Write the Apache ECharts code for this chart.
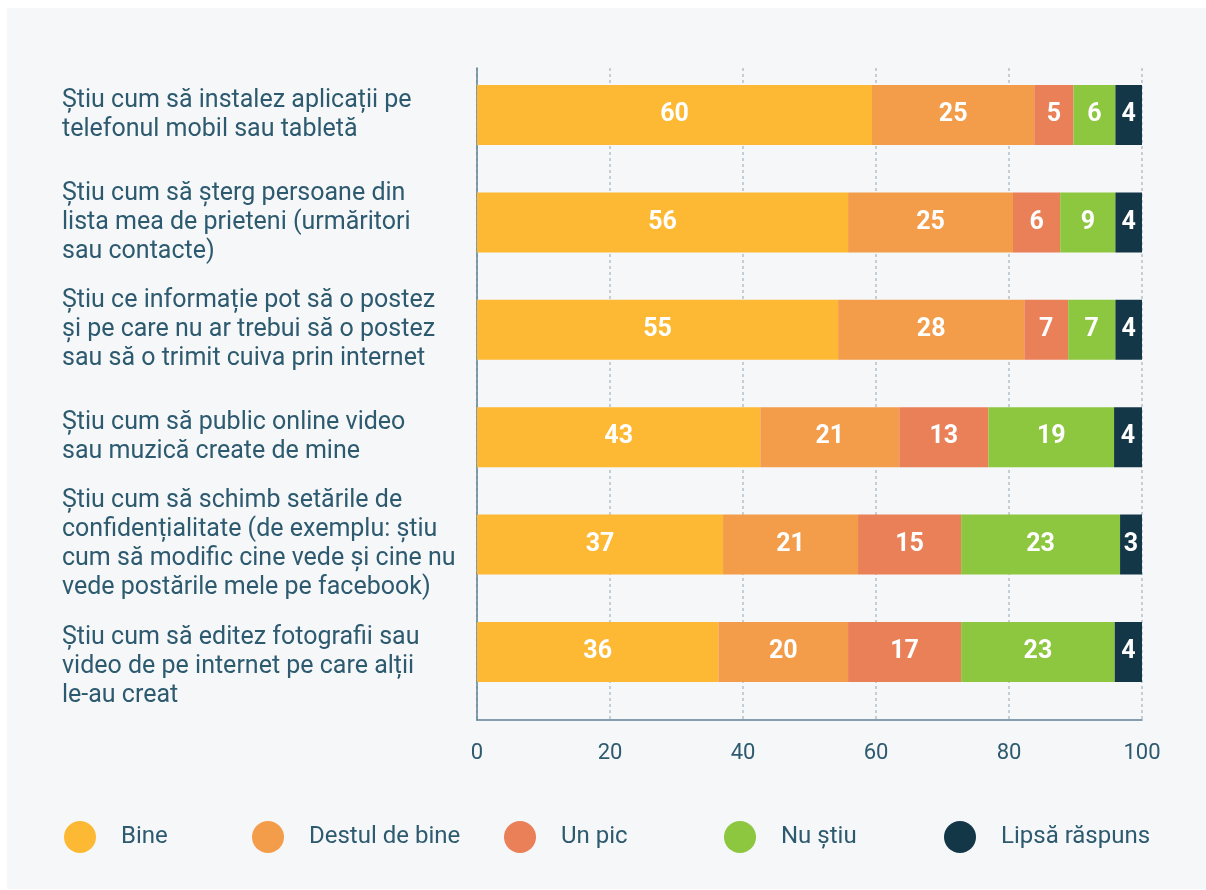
<!DOCTYPE html>
<html>
<head>
<meta charset="utf-8">
<title>Abilități digitale</title>
<script src="https://cdn.jsdelivr.net/npm/echarts@6/dist/echarts.min.js"></script>
<style>
  html, body { margin: 0; padding: 0; background: #ffffff; }
  #chart { width: 1206px; height: 890px; }
</style>
</head>
<body>
<div id="chart"></div>
<script>
const categories = [
  'Știu cum să instalez aplicații pe\ntelefonul mobil sau tabletă',
  'Știu cum să șterg persoane din\nlista mea de prieteni (urmăritori\nsau contacte)',
  'Știu ce informație pot să o postez\nși pe care nu ar trebui să o postez\nsau să o trimit cuiva prin internet',
  'Știu cum să public online video\nsau muzică create de mine',
  'Știu cum să schimb setările de\nconfidențialitate (de exemplu: știu\ncum să modific cine vede și cine nu\nvede postările mele pe facebook)',
  'Știu cum să editez fotografii sau\nvideo de pe internet pe care alții\nle-au creat'
];

const seriesNames = ['Bine', 'Destul de bine', 'Un pic', 'Nu știu', 'Lipsă răspuns'];

// bar lengths as they are drawn in the source (%)
const bine        = [59.4, 55.8, 54.3, 42.6, 37.0, 36.3];
const destulDeBine = [24.4, 24.8, 28.0, 20.9, 20.3, 19.5];
const unPic       = [5.9, 7.1, 6.6, 13.4, 15.5, 17.0];
const nuStiu      = [6.3, 8.3, 7.1, 18.9, 23.9, 23.1];
const lipsa       = [4.2, 4.2, 4.2, 4.4, 3.3, 4.2];

// figures printed on the bars
const bineLabels   = [60, 56, 55, 43, 37, 36];
const destulLabels = [25, 25, 28, 21, 21, 20];
const unPicLabels  = [5, 6, 7, 13, 15, 17];
const nuStiuLabels = [6, 9, 7, 19, 23, 23];
const lipsaLabels  = [4, 4, 4, 4, 3, 4];

const xTicks = [0, 20, 40, 60, 80, 100];

const values = [bine, destulDeBine, unPic, nuStiu, lipsa];
const printed = [bineLabels, destulLabels, unPicLabels, nuStiuLabels, lipsaLabels];
const colors = ['#fdb933', '#f39d4a', '#ea8058', '#8dc63f', '#143748'];

const textColor = '#2d5a6f';
const font = 'Roboto, "Noto Sans", sans-serif';

const chart = echarts.init(document.getElementById('chart'));

const legendLeft = [64, 252, 504, 724, 944];

chart.setOption({
  backgroundColor: '#ffffff',
  textStyle: { fontFamily: font },
  graphic: [{
    type: 'rect',
    z: -10,
    shape: { x: 7, y: 8, width: 1199, height: 881 },
    style: { fill: '#f5f7f9' }
  }],
  legend: seriesNames.map((name, i) => ({
    data: [name],
    left: legendLeft[i],
    top: 821,
    padding: 0,
    icon: 'circle',
    itemWidth: 32,
    itemHeight: 32,
    selectedMode: false,
    textStyle: { color: textColor, fontSize: 24, fontFamily: font, padding: [0, 0, 0, 20] }
  })),
  grid: [
    // frame: axis lines, grid lines, tick labels
    { left: 477, right: 64, top: 68, bottom: 170 },
    // bars
    { left: 477, right: 64, top: 61.3, bottom: 184.3 }
  ],
  xAxis: [
    {
      gridIndex: 0,
      type: 'value',
      min: 0,
      max: 100,
      interval: 20,
      axisLine: { show: true, lineStyle: { color: '#5f8294', width: 1.5 } },
      axisTick: { show: false },
      axisLabel: {
        color: textColor, fontSize: 22, margin: 22, fontFamily: font,
        formatter: v => xTicks.includes(v) ? String(v) : ''
      },
      splitLine: { show: true, lineStyle: { color: '#b3c1cb', type: [3, 3], width: 1.5 } }
    },
    {
      gridIndex: 1,
      type: 'value',
      min: 0,
      max: 100,
      show: false
    }
  ],
  yAxis: [
    {
      gridIndex: 0,
      type: 'value',
      min: 0,
      max: 1,
      axisLine: { show: true, lineStyle: { color: '#5f8294', width: 1.5 } },
      axisTick: { show: false },
      axisLabel: { show: false },
      splitLine: { show: false }
    },
    {
      gridIndex: 1,
      type: 'category',
      inverse: true,
      data: categories,
      axisLine: { show: false },
      axisTick: { show: false },
      axisLabel: {
        interval: 0,
        hideOverlap: false,
        align: 'left',
        margin: 415,
        color: textColor,
        fontSize: 25,
        lineHeight: 29,
        fontFamily: font,
        // the last question sits a little lower in the source
        formatter: (v, i) => i === categories.length - 1 ? '\n' + v : v
      }
    }
  ],
  series: seriesNames.map((name, i) => ({
    name: name,
    type: 'bar',
    stack: 'total',
    xAxisIndex: 1,
    yAxisIndex: 1,
    barWidth: 60,
    itemStyle: { color: colors[i] },
    label: {
      show: true,
      position: 'inside',
      color: '#ffffff',
      fontSize: 25,
      fontWeight: 'bold',
      fontFamily: font,
      formatter: p => String(printed[i][p.dataIndex])
    },
    data: values[i]
  }))
});
</script>
</body>
</html>
